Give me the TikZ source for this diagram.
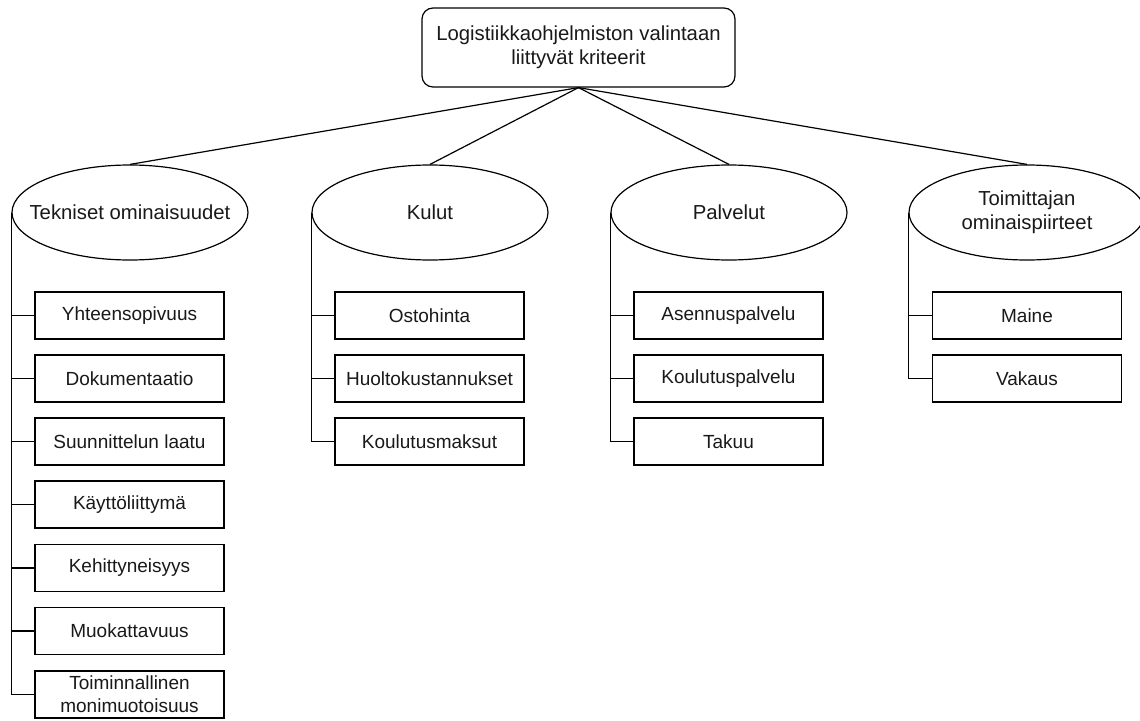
\documentclass[tikz,border=0pt]{standalone}
\usepackage{fontspec}
\setmainfont{Liberation Sans}
\usetikzlibrary{shapes.geometric}
\begin{document}
\begin{tikzpicture}[x=1pt,y=-1pt,
  every node/.style={font=\fontsize{19}{23}\selectfont, text=black!90, align=center, inner sep=0pt},
  bigfont/.style={font=\fontsize{20.3}{24}\selectfont},
  topbox/.style={draw, line width=1.2pt, rounded corners=11pt, minimum width=313pt, minimum height=79pt, bigfont},
  cat/.style={draw, line width=1.2pt, ellipse, minimum width=236pt, minimum height=95pt},
  cattext/.style={bigfont},
  leaf/.style={draw, line width=1.2pt, minimum width=189pt, minimum height=47pt},
  link/.style={line width=1.2pt}]
\useasboundingbox (0,0) rectangle (1140,720);
\fill[white] (0,0) rectangle (1140,720);
\node[topbox] (top) at (578.5,47.5) {Logistiikkaohjelmiston valintaan\\liittyvät kriteerit};
\node[cat] (c1) at (130,212.5) {};
\node[cat] (c2) at (430,212.5) {};
\node[cat] (c3) at (729,212.5) {};
\node[cat] (c4) at (1027,212.5) {};
\node[cattext] (t1) at (c1.center) {Tekniset ominaisuudet};
\node[cattext] (t2) at (c2.center) {Kulut};
\node[cattext] (t3) at (c3.center) {Palvelut};
\node[cattext] (t4) at (c4.center) {Toimittajan\\ominaispiirteet};
% column 1
\node[leaf] (a1) at (129.5,315.5) {Yhteensopivuus};
\node[leaf] (a2) at (129.5,378.5) {Dokumentaatio};
\node[leaf] (a3) at (129.5,441.5) {Suunnittelun laatu};
\node[leaf] (a4) at (129.5,504.5) {Käyttöliittymä};
\node[leaf] (a5) at (129.5,568) {Kehittyneisyys};
\node[leaf] (a6) at (129.5,631) {Muokattavuus};
\node[leaf] (a7) at (129.5,694.5) {Toiminnallinen\\monimuotoisuus};
% column 2
\node[leaf] (b1) at (429.5,315.5) {Ostohinta};
\node[leaf] (b2) at (429.5,378.5) {Huoltokustannukset};
\node[leaf] (b3) at (429.5,441.5) {Koulutusmaksut};
% column 3
\node[leaf] (d1) at (728.5,315.5) {Asennuspalvelu};
\node[leaf] (d2) at (728.5,378.5) {Koulutuspalvelu};
\node[leaf] (d3) at (728.5,441.5) {Takuu};
% column 4
\node[leaf] (e1) at (1027,315.5) {Maine};
\node[leaf] (e2) at (1027,378.5) {Vakaus};
% top links
\foreach \c in {c1,c2,c3,c4} \draw[link] (top.south) -- (\c.north);
% tree links
\foreach \b in {a1,a2,a3,a4,a5,a6,a7} \draw[link] (c1.west) |- (\b.west);
\foreach \b in {b1,b2,b3} \draw[link] (c2.west) |- (\b.west);
\foreach \b in {d1,d2,d3} \draw[link] (c3.west) |- (\b.west);
\foreach \b in {e1,e2} \draw[link] (c4.west) |- (\b.west);
\end{tikzpicture}
\end{document}
